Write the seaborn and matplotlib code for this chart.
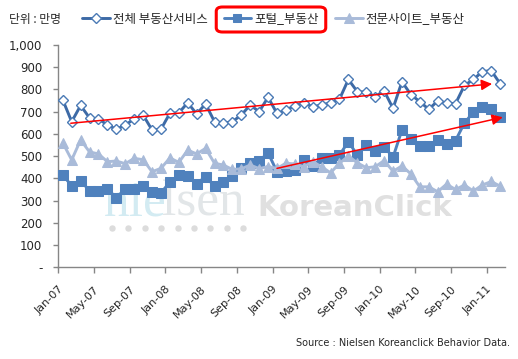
import numpy as np
import pandas as pd
import matplotlib
matplotlib.use("Agg")
import matplotlib.pyplot as plt
import seaborn as sns
from matplotlib.patches import FancyBboxPatch

# monthly values, Jan-07 .. Feb-11 (unit: 10k people)
total_service = [753, 655, 728, 672, 668, 640, 621, 640, 667, 685, 618, 621,
                 693, 695, 740, 690, 735, 655, 648, 655, 685, 730, 700, 765,
                 692, 708, 727, 740, 722, 730, 740, 756, 845, 790, 788, 768,
                 794, 715, 835, 777, 745, 711, 748, 739, 736, 818, 845, 880,
                 885, 826]
portal = [415, 367, 390, 344, 342, 354, 312, 354, 354, 366, 340, 335,
          383, 415, 409, 376, 408, 365, 383, 412, 445, 471, 478, 515,
          430, 433, 438, 483, 456, 490, 493, 505, 565, 505, 550, 525,
          543, 495, 618, 577, 546, 546, 573, 554, 570, 649, 698, 722,
          710, 675]
specialist = [560, 483, 573, 519, 510, 475, 478, 466, 490, 484, 430, 445,
              492, 472, 527, 510, 535, 468, 460, 440, 443, 460, 444, 453,
              445, 468, 465, 452, 475, 452, 425, 468, 500, 470, 448, 452,
              480, 432, 456, 420, 362, 362, 340, 374, 350, 370, 343, 370,
              386, 365]
tick_labels = ['Jan-07', 'May-07', 'Sep-07', 'Jan-08', 'May-08', 'Sep-08', 'Jan-09',
               'May-09', 'Sep-09', 'Jan-10', 'May-10', 'Sep-10', 'Jan-11']
series_names = ['전체 부동산서비스', '포털_부동산', '전문사이트_부동산']

# red trend arrows: (start idx, start value) -> (end idx, end value)
arrow_total = [(0.9, 648), (48.1, 825)]
arrow_portal = [(24.0, 445), (49.3, 675)]

df = pd.DataFrame({'idx': np.arange(len(total_service)),
                   'total': total_service, 'portal': portal, 'special': specialist})

sns.set_style("white")
plt.rcParams['font.family'] = ['Noto Sans CJK KR', 'DejaVu Sans']

W, H = 518, 359
fig = plt.figure(figsize=(W / 100, H / 100), dpi=100)
ax = fig.add_axes([58.3 / W, (H - 267.3) / H, (504.6 - 58.3) / W, (267.3 - 45) / H])
ax.set_facecolor('none')

# watermark
ax.text(104 / W, 1 - 216 / H, 'nie', transform=fig.transFigure, fontsize=37,
        family='Liberation Serif', color='#d3ebf2', va='baseline', zorder=0.5)
ax.text(162 / W, 1 - 216 / H, 'lsen', transform=fig.transFigure, fontsize=37,
        family='Liberation Serif', color='#e2e6e8', va='baseline', zorder=0.5)
ax.text(257 / W, 1 - 216 / H, 'KoreanClick', transform=fig.transFigure, fontsize=21,
        family='DejaVu Sans', weight='bold', color='#e0e0e0', va='baseline', zorder=0.5)
dot_x = (111.7 + 16.45 * np.arange(9)) / W
ax.plot(dot_x, np.full(9, 1 - 228 / H), transform=fig.transFigure, ls='none',
        marker='o', ms=3.6, color='#dcdcdc', zorder=0.5)

sns.lineplot(data=df, x='idx', y='total', ax=ax, color='#3d6aa6', lw=2.1,
             marker='D', ms=5.6, mfc='white', mec='#4a7ab5', mew=1.0,
             label=series_names[0], zorder=3)
sns.lineplot(data=df, x='idx', y='portal', ax=ax, color='#4f81bd', lw=2.1,
             marker='s', ms=7.2, mfc='#4f81bd', mec='#4f81bd',
             label=series_names[1], zorder=3)
sns.lineplot(data=df, x='idx', y='special', ax=ax, color='#a9bbd9', lw=2.1,
             marker='^', ms=7.8, mfc='#a9bbd9', mec='#a9bbd9',
             label=series_names[2], zorder=3)

for (x0, y0), (x1, y1) in [arrow_total, arrow_portal]:
    ax.annotate('', xy=(x1, y1), xytext=(x0, y0), zorder=5,
                arrowprops=dict(arrowstyle='-|>', color='#ff0000', lw=1.1,
                                mutation_scale=16, shrinkA=0, shrinkB=0))

ax.set_xlim(-0.5, len(total_service) - 0.5)
ax.set_ylim(0, 1000)
ax.set_xticks(np.arange(len(tick_labels)) * 4 - 0.5)
ax.set_xticklabels(tick_labels, rotation=45, ha='right', rotation_mode='anchor',
                   fontsize=8, family='DejaVu Sans')
ax.set_yticks(np.arange(0, 1001, 100))
ax.set_yticklabels(['-'] + [f'{v:,}' for v in range(100, 1001, 100)],
                   fontsize=8.5, family='DejaVu Sans')
ax.set_xlabel('')
ax.set_ylabel('')
ax.tick_params(axis='x', direction='out', length=4, width=1, color='#868686', pad=8, bottom=True)
ax.tick_params(axis='y', direction='out', length=3.5, width=1, color='#868686', pad=8, left=True)
for s in ['top', 'right']:
    ax.spines[s].set_visible(False)
for s in ['left', 'bottom']:
    ax.spines[s].set_color('#868686')
    ax.spines[s].set_linewidth(1)

handles, labels = ax.get_legend_handles_labels()
ax.get_legend().remove()
leg = fig.legend(handles, labels, loc='center left', bbox_to_anchor=(82 / W, 1 - 19 / H),
                 ncol=3, frameon=False, fontsize=9, handlelength=2.2, handletextpad=0.25,
                 columnspacing=1.3, borderpad=0, borderaxespad=0, markerscale=0.85)
fig.text(9 / W, 1 - 19 / H, '단위 : 만명', fontsize=8.5, va='center', ha='left')

fig.canvas.draw()
bb = leg.get_texts()[1].get_window_extent().transformed(fig.transFigure.inverted())
box = FancyBboxPatch((bb.x0 - 38 / W, 1 - 32 / H), bb.width + 45 / W, 25 / H,
                     boxstyle='round,pad=0,rounding_size=0.012', transform=fig.transFigure,
                     fill=False, edgecolor='#ff0000', lw=2.2)
fig.add_artist(box)

fig.text(510 / W, 1 - 343 / H, 'Source : Nielsen Koreanclick Behavior Data.',
         ha='right', va='center', fontsize=7, family='DejaVu Sans')

fig.savefig('out.png', dpi=100)
